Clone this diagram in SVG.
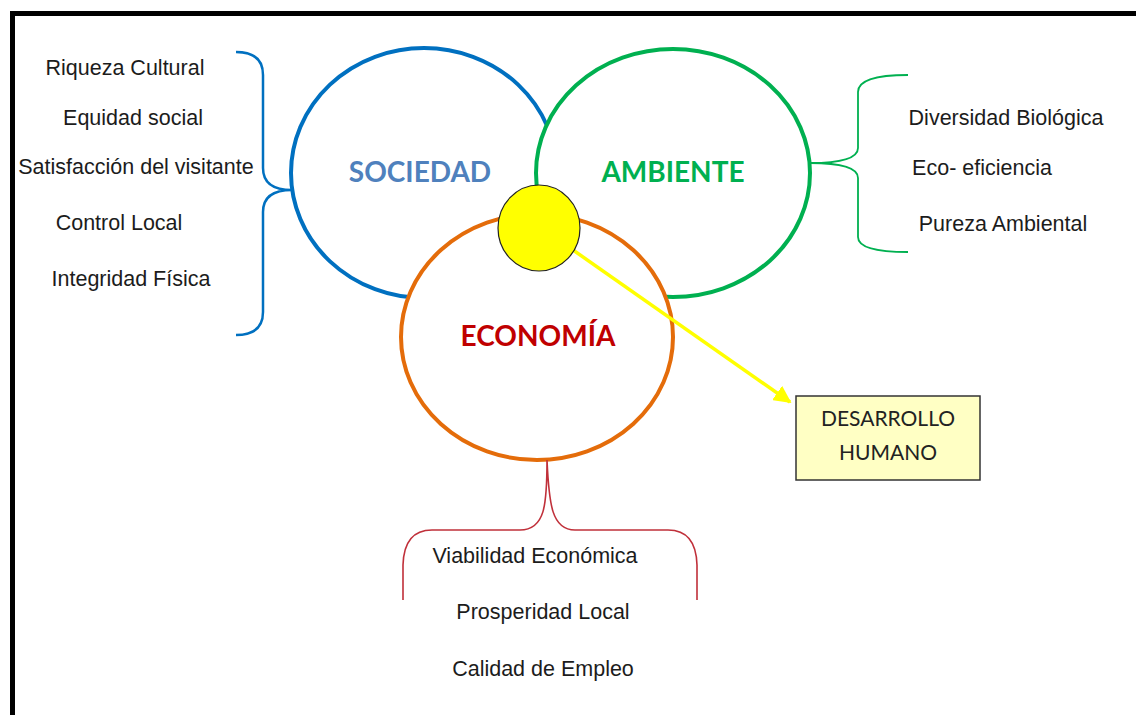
<svg xmlns="http://www.w3.org/2000/svg" width="1136" height="715" viewBox="0 0 1136 715">
<defs>
<style>
.t{font-family:"Liberation Sans",Arial,sans-serif;font-size:21.5px;fill:#1c1c1c;text-anchor:middle}
.h{font-family:Lato,"Open Sans",sans-serif;font-weight:bold;font-size:28px;text-anchor:middle}
.c{stroke-width:4;fill:#fff}
.b{fill:none}
</style>
<marker id="ah" viewBox="0 0 10 10" refX="9" refY="5" markerWidth="5" markerHeight="5" orient="auto" markerUnits="strokeWidth">
<path d="M0,0 L10,5 L0,10 z" fill="#FFFF00"/>
</marker>
</defs>
<rect x="0" y="0" width="1136" height="715" fill="#fff"/>
<rect x="12.5" y="13.5" width="1200" height="800" fill="none" stroke="#000" stroke-width="5"/>

<g id="sociedad">
<ellipse class="c" cx="424" cy="173" rx="133" ry="125" stroke="#0070C0"/>
<text class="h" x="420" y="182" fill="#4F81BD">SOCIEDAD</text>
</g>
<g id="ambiente">
<ellipse class="c" cx="673" cy="173" rx="137" ry="124" stroke="#00B050"/>
<text class="h" x="673" y="182" fill="#00B050">AMBIENTE</text>
</g>
<g id="economia">
<ellipse class="c" cx="537" cy="337" rx="136" ry="123" stroke="#E46C0A"/>
<text class="h" x="538" y="346" fill="#C00000">ECONOMÍA</text>
</g>

<g id="connectors">
<path class="b" d="M236,52 Q263,52 263,75 L263,168 Q263,190 292,190 Q263,190 263,212 L263,312 Q263,335 236,335" stroke="#0070C0" stroke-width="2.5"/>
<path class="b" d="M908,75 Q858,75 858,92 L858,148 Q858,163 810,163 Q858,163 858,178 L858,237 Q858,252 908,252" stroke="#00B050" stroke-width="1.8"/>
<path class="b" d="M547,460 C547,505 545,530 520,530 L432,530 Q404,530 403,565 L403,600 M547,460 C549,505 552,530 575,530 L668,530 Q696,530 697,565 L697,600" stroke="#C0303A" stroke-width="1.6"/>
<line x1="573" y1="250" x2="790" y2="402" stroke="#FFFF00" stroke-width="3.5" marker-end="url(#ah)"/>
</g>

<g id="centro">
<ellipse cx="539" cy="228" rx="41" ry="43" fill="#FFFF00" stroke="#222" stroke-width="1.2"/>
</g>

<g id="desarrollo">
<rect x="796" y="396" width="184" height="84" fill="#FFFFC4" stroke="#333" stroke-width="1.5"/>
<text x="888" y="426" font-family="Lato,'Open Sans',sans-serif" font-size="21" fill="#222" text-anchor="middle">DESARROLLO</text>
<text x="888" y="460" font-family="Lato,'Open Sans',sans-serif" font-size="21" fill="#222" text-anchor="middle">HUMANO</text>
</g>

<g id="sociedad-items">
<text class="t" x="125" y="75">Riqueza Cultural</text>
<text class="t" x="133" y="125">Equidad social</text>
<text class="t" x="136" y="174">Satisfacción del visitante</text>
<text class="t" x="119" y="230">Control Local</text>
<text class="t" x="131" y="286">Integridad Física</text>
</g>
<g id="ambiente-items">
<text class="t" x="1006" y="125">Diversidad Biológica</text>
<text class="t" x="982" y="175">Eco- eficiencia</text>
<text class="t" x="1003" y="231">Pureza Ambiental</text>
</g>
<g id="economia-items">
<text class="t" x="535" y="563">Viabilidad Económica</text>
<text class="t" x="543" y="619">Prosperidad Local</text>
<text class="t" x="543" y="676">Calidad de Empleo</text>
</g>
</svg>
